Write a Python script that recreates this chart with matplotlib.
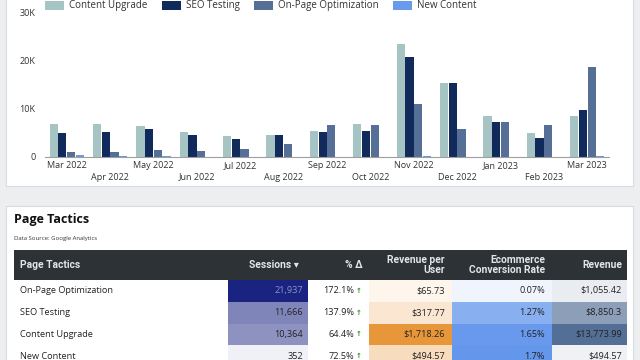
import matplotlib
matplotlib.use("Agg")
import matplotlib.pyplot as plt
import numpy as np
from matplotlib.patches import Rectangle
from matplotlib.colors import LinearSegmentedColormap

# ---------------- data ----------------
months = ["Mar 2022", "Apr 2022", "May 2022", "Jun 2022", "Jul 2022", "Aug 2022", "Sep 2022",
          "Oct 2022", "Nov 2022", "Dec 2022", "Jan 2023", "Feb 2023", "Mar 2023"]
series_names = ["Content Upgrade", "SEO Testing", "On-Page Optimization", "New Content"]
content_upgrade = [6900, 6800, 6500, 5200, 4400, 4600, 5500, 6800, 23500, 15500, 8500, 5100, 8500]
seo_testing = [5100, 5200, 5900, 4500, 3700, 4500, 5200, 5500, 20800, 15500, 7200, 4000, 9800]
on_page_opt = [1000, 1000, 1500, 1300, 1700, 2700, 6600, 6600, 11000, 5800, 7200, 6600, 18700]
new_content = [350, 300, 200, 100, 100, 50, 50, 50, 200, 100, 100, 100, 300]
y_ticks = [0, 10000, 20000, 30000]
y_tick_labels = ["0", "10K", "20K", "30K"]

table_title = "Page Tactics"
table_source = "Data Source: Google Analytics"
col_headers = ["Page Tactics", "Sessions \u25BE", "% \u0394", "Revenue per\nUser",
               "Ecommerce\nConversion Rate", "Revenue"]
tactics = ["On-Page Optimization", "SEO Testing", "Content Upgrade", "New Content"]
sessions = [21937, 11666, 10364, 352]
pct_delta = [172.1, 137.9, 64.4, 72.5]
rev_per_user = [65.73, 317.77, 1718.26, 494.57]
conv_rate = [0.07, 1.27, 1.65, 1.7]
revenue = [1055.42, 8850.3, 13773.99, 494.57]
revenue_labels = ["$1,055.42", "$8,850.3", "$13,773.99", "$494.57"]
conv_labels = ["0.07%", "1.27%", "1.65%", "1.7%"]

# ---------------- styles ----------------
bar_colors = ["#a6c4c4", "#0f2a5b", "#566f96", "#6a9bea"]
page_bg = "#eceef0"
font = ["Open Sans", "DejaVu Sans"]
plt.rcParams["font.family"] = font

W, H = 640, 360
fig = plt.figure(figsize=(6.4, 3.6), dpi=100)
fig.patch.set_facecolor(page_bg)

bg = fig.add_axes([0, 0, 1, 1])
bg.set_xlim(0, W)
bg.set_ylim(H, 0)
bg.axis("off")
bg.set_zorder(0)

# cards
bg.add_patch(Rectangle((6, -5), 627, 191, facecolor="white", edgecolor="#d9dbde", lw=0.8))
bg.add_patch(Rectangle((6, 206), 627, 170, facecolor="white", edgecolor="#d9dbde", lw=0.8))

# ---------------- bar chart ----------------
ax = fig.add_axes([45 / W, 1 - 157 / H, (609 - 45) / W, (157 - 13) / H])
ax.set_zorder(1)
ax.patch.set_alpha(0)
x = np.arange(len(months))
bw = 0.19
step = 0.2
all_series = [content_upgrade, seo_testing, on_page_opt, new_content]
for i, (vals, c) in enumerate(zip(all_series, bar_colors)):
    ax.bar(x + (i - 1.5) * step, vals, width=bw, color=c, label=series_names[i])
ax.set_xlim(-0.5, len(months) - 0.5)
ax.set_ylim(0, 30000)
ax.set_yticks(y_ticks)
ax.set_yticklabels(y_tick_labels, fontsize=6.5, color="#333333")
ax.set_xticks(x)
ax.set_xticklabels([m if i % 2 == 0 else "\n" + m for i, m in enumerate(months)],
                   fontsize=6.5, color="#333333", linespacing=1.35)
ax.tick_params(length=0, pad=3)
ax.tick_params(axis="y", pad=7)
for s in ["top", "right", "left"]:
    ax.spines[s].set_visible(False)
ax.spines["bottom"].set_color("#9e9e9e")
ax.spines["bottom"].set_linewidth(0.8)

# legend (manual)
leg_x = [45, 162, 254, 393]
for lx, c, name in zip(leg_x, bar_colors, series_names):
    bg.add_patch(Rectangle((lx, 0.5), 19, 9, facecolor=c, edgecolor="none"))
    bg.text(lx + 24, 5.5, name, fontsize=7, color="#333333", va="center", ha="left")

# ---------------- table ----------------
bg.text(14, 220, table_title, fontsize=9, fontweight="bold", color="#111111",
        va="center", ha="left")
bg.text(14, 238.5, table_source, fontsize=4.3, color="#333333", va="center", ha="left")

tx0, tx1 = 14, 627
hy0, hy1 = 250, 280
bg.add_patch(Rectangle((tx0, hy0), tx1 - tx0, hy1 - hy0, facecolor="#2c3236", edgecolor="none"))

col_edges = [14, 228, 308, 369, 452, 552, 627]
hdr_font = ["Roboto", "DejaVu Sans"]
hdr_x = [20, 299, 363, 445, 545, 622]
for j, (hx, h) in enumerate(zip(hdr_x, col_headers)):
    bg.text(hx, (hy0 + hy1) / 2, h, fontsize=7.4, fontweight="bold", color="#e3e5e7",
            ha="left" if j == 0 else "right", va="center", family=hdr_font, linespacing=1.05)

row_h = 21.8
cm_sess = LinearSegmentedColormap.from_list("s", ["#f3f4f9", "#1a2480"])
cm_rpu = LinearSegmentedColormap.from_list("r", ["#fff8f3", "#e8963a"])
cm_conv = LinearSegmentedColormap.from_list("c", ["#f5f8fe", "#6496eb"])
cm_rev = LinearSegmentedColormap.from_list("v", ["#f5f6f8", "#546f95"])

fs = 6.6
for i, name in enumerate(tactics):
    y0 = hy1 + i * row_h
    yc = y0 + row_h / 2
    cells = [
        (1, cm_sess(sessions[i] / max(sessions))),
        (3, cm_rpu(rev_per_user[i] / max(rev_per_user))),
        (4, cm_conv(conv_rate[i] / max(conv_rate))),
        (5, cm_rev(revenue[i] / max(revenue))),
    ]
    for col, c in cells:
        bg.add_patch(Rectangle((col_edges[col], y0), col_edges[col + 1] - col_edges[col], row_h + 0.3,
                               facecolor=c, edgecolor="none"))
    bg.text(20, yc, name, fontsize=fs, color="#222222", va="center", ha="left")
    frac = sessions[i] / max(sessions)
    scol = "#8d94c9" if frac > 0.8 else "#222222"
    bg.text(303, yc, f"{sessions[i]:,}", fontsize=fs, color=scol, va="center", ha="right")
    bg.text(354, yc, f"{pct_delta[i]}%", fontsize=fs, color="#222222", va="center", ha="right")
    bg.text(356, yc, "\u2191", fontsize=5, color="#2e8b3a", va="center", ha="left",
            family=["DejaVu Sans"], fontweight="bold")
    bg.text(445, yc, f"${rev_per_user[i]:,.2f}", fontsize=fs, color="#222222", va="center", ha="right")
    bg.text(545, yc, conv_labels[i], fontsize=fs, color="#222222", va="center", ha="right")
    bg.text(622, yc, revenue_labels[i], fontsize=fs, color="#222222", va="center", ha="right")

fig.savefig("out.png", dpi=100, facecolor=page_bg)
